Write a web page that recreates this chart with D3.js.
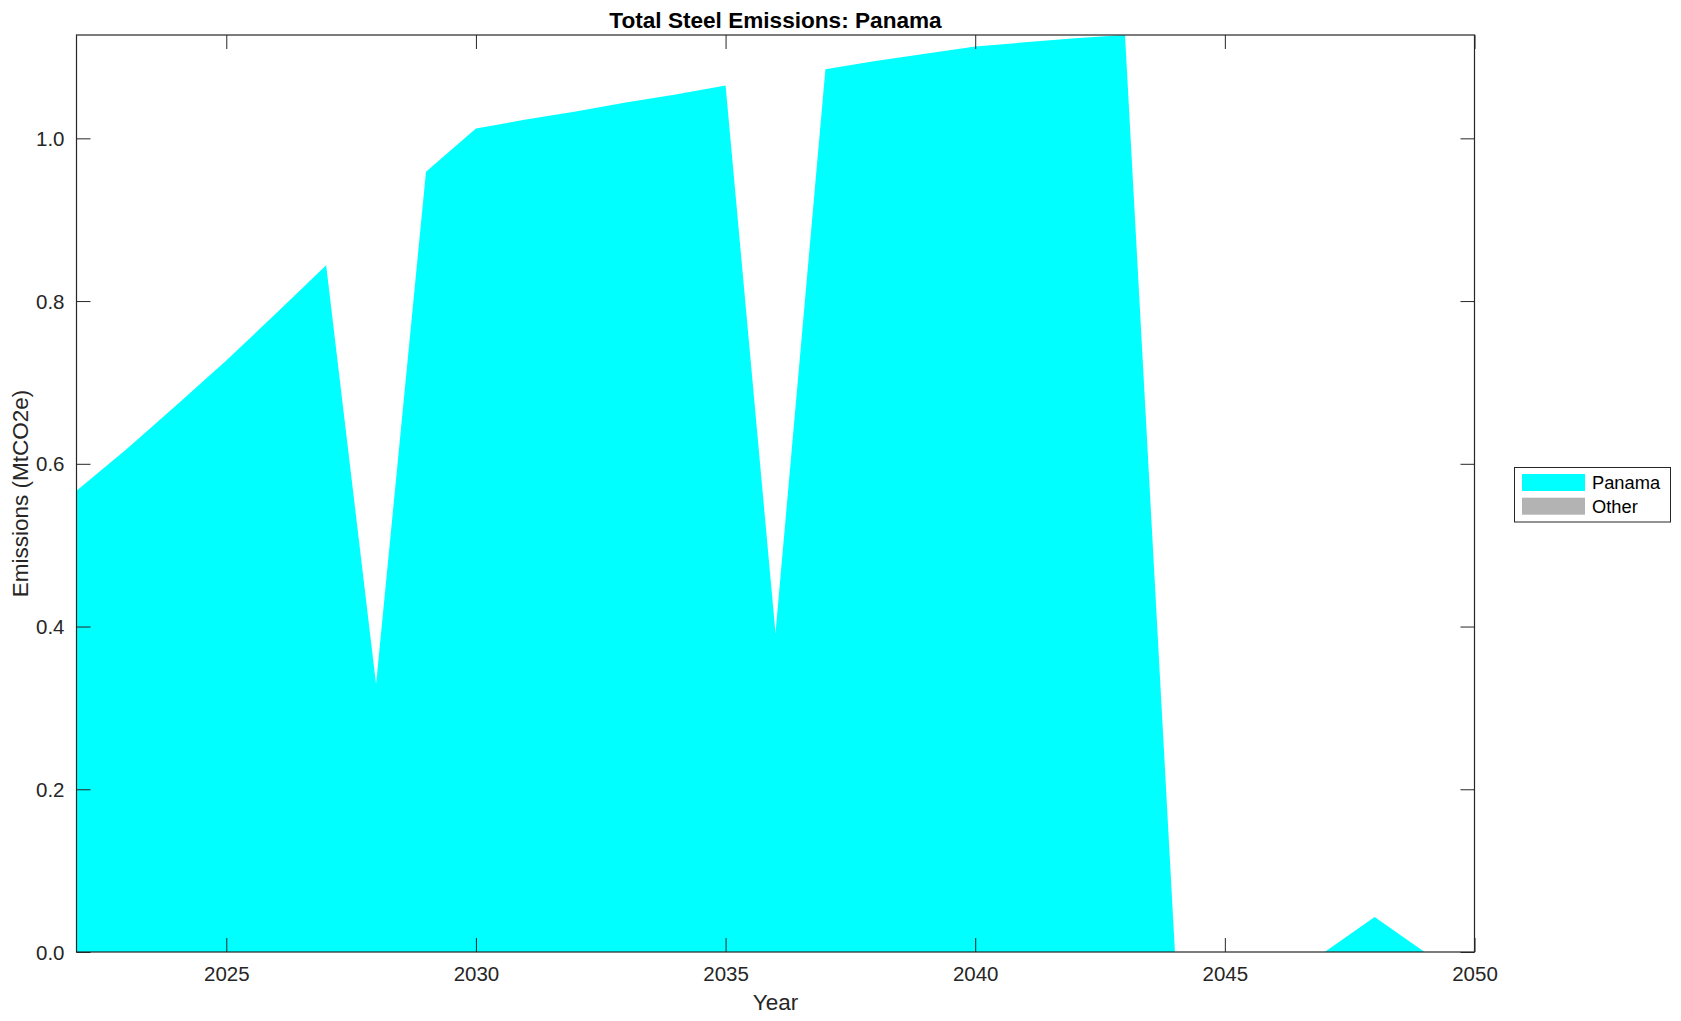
<!DOCTYPE html>
<html>
<head>
<meta charset="utf-8">
<script src="https://cdn.jsdelivr.net/npm/d3@7"></script>
<style>
  html, body { margin: 0; padding: 0; background: #fff; }
  svg { display: block; font-family: "Liberation Sans", Arial, Helvetica, sans-serif; }
</style>
</head>
<body>
<svg id="chart" width="1681" height="1021"></svg>
<script>
// ---- data ----
const years = [2022,2023,2024,2025,2026,2027,2028,2029,2030,2031,2032,2033,2034,2035,2036,2037,2038,2039,2040,2041,2042,2043,2044,2045,2046,2047,2048,2049,2050];
const panama = [0.567,0.618,0.672,0.727,0.785,0.844,0.329,0.959,1.012,1.023,1.033,1.044,1.054,1.065,0.392,1.085,1.095,1.104,1.113,1.118,1.123,1.127,0,0,0,0,0.043,0,0];
const other = [0,0,0,0,0,0,0,0,0,0,0,0,0,0,0,0,0,0,0,0,0,0,0,0,0,0,0,0,0];
const seriesNames = ["Panama", "Other"];
const seriesColors = ["#00ffff", "#b3b3b3"];
const xTicks = [2025, 2030, 2035, 2040, 2045, 2050];
const yTicks = [0, 0.2, 0.4, 0.6, 0.8, 1.0];
const titleText = "Total Steel Emissions: Panama";
const xLabel = "Year";
const yLabel = "Emissions (MtCO2e)";

// ---- layout ----
const svg = d3.select("#chart");
const L = 76.5, R = 1474.5, T = 35, B = 952;
const axisColor = "#262626";
const tickLen = 14;

const table = years.map((y, i) => ({year: y, Panama: panama[i], Other: other[i]}));
const stack = d3.stack().keys(seriesNames);
const stacked = stack(table);
const yMax = d3.max(table, d => d.Panama + d.Other);

const x = d3.scaleLinear().domain([2022, 2050]).range([L, R]);
const y = d3.scaleLinear().domain([0, yMax]).range([B, T]);

const area = d3.area()
  .x(d => x(d.data.year))
  .y0(d => y(d[0]))
  .y1(d => y(d[1]));

const plot = svg.append("g");
plot.selectAll("path.area")
  .data(stacked)
  .join("path")
  .attr("class", "area")
  .attr("d", area)
  .attr("fill", (d, i) => seriesColors[i])
  .attr("stroke", "none");

// ---- axes ----
const xAxisB = d3.axisBottom(x).tickValues(xTicks).tickSizeInner(-tickLen).tickSizeOuter(0).tickFormat(d3.format("d"));
const xAxisT = d3.axisTop(x).tickValues(xTicks).tickSizeInner(-tickLen).tickSizeOuter(0).tickFormat("");
const yAxisL = d3.axisLeft(y).tickValues(yTicks).tickSizeInner(-tickLen).tickSizeOuter(0).tickFormat(d3.format(".1f"));
const yAxisR = d3.axisRight(y).tickValues(yTicks).tickSizeInner(-tickLen).tickSizeOuter(0).tickFormat("");

function styleAxis(g) {
  g.select(".domain").remove();
  g.selectAll(".tick line").attr("stroke", axisColor).attr("stroke-width", 1);
  g.selectAll(".tick text").attr("fill", axisColor).attr("font-size", 20.5).attr("font-family", null);
}

const gxb = svg.append("g").attr("transform", `translate(0,${B})`).call(xAxisB).call(styleAxis);
gxb.selectAll(".tick text").attr("dy", null).attr("y", 29);
svg.append("g").attr("transform", `translate(0,${T})`).call(xAxisT).call(styleAxis);
const gyl = svg.append("g").attr("transform", `translate(${L},0)`).call(yAxisL).call(styleAxis);
gyl.selectAll(".tick text").attr("x", -12).attr("dy", "0.35em");
svg.append("g").attr("transform", `translate(${R},0)`).call(yAxisR).call(styleAxis);

// box
svg.append("rect")
  .attr("x", L).attr("y", T).attr("width", R - L).attr("height", B - T)
  .attr("fill", "none").attr("stroke", axisColor).attr("stroke-width", 1.2);

// ---- titles ----
svg.append("text")
  .attr("x", (L + R) / 2).attr("y", 27.5)
  .attr("text-anchor", "middle")
  .attr("font-size", 22.6).attr("font-weight", "bold").attr("fill", "#000")
  .text(titleText);

svg.append("text")
  .attr("x", (L + R) / 2).attr("y", 1010)
  .attr("text-anchor", "middle")
  .attr("font-size", 22.5).attr("fill", axisColor)
  .text(xLabel);

svg.append("text")
  .attr("transform", `translate(27.5,${(T + B) / 2}) rotate(-90)`)
  .attr("text-anchor", "middle")
  .attr("font-size", 22.5).attr("fill", axisColor)
  .text(yLabel);

// ---- legend ----
const lg = svg.append("g");
lg.append("rect")
  .attr("x", 1514.5).attr("y", 467.5).attr("width", 156).attr("height", 54.5)
  .attr("fill", "#fff").attr("stroke", axisColor).attr("stroke-width", 1);
const items = lg.selectAll("g.item").data(seriesNames).join("g").attr("class", "item")
  .attr("transform", (d, i) => `translate(0,${i * 23.7})`);
items.append("rect")
  .attr("x", 1522).attr("y", 474).attr("width", 63).attr("height", 17)
  .attr("fill", (d, i) => seriesColors[i]);
items.append("text")
  .attr("x", 1592).attr("y", 489)
  .attr("font-size", 18.3).attr("fill", "#000")
  .text(d => d);
</script>
</body>
</html>
